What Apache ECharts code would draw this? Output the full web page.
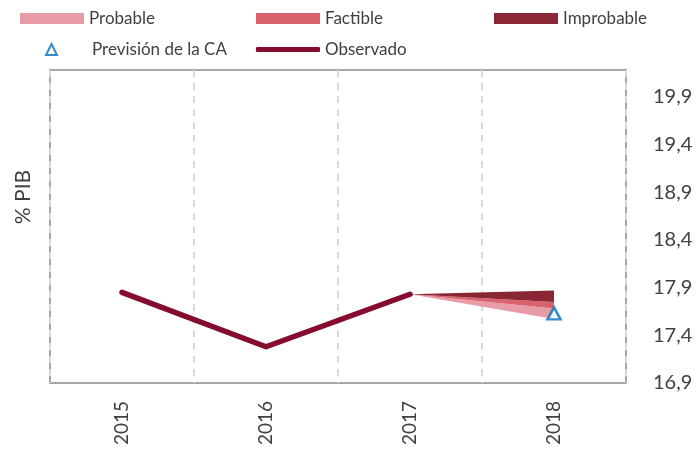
<!DOCTYPE html>
<html>
<head>
<meta charset="utf-8">
<script src="https://cdn.jsdelivr.net/npm/echarts@6/dist/echarts.min.js"></script>
<style>html,body{margin:0;padding:0;background:#fff}#c{width:698px;height:450px}</style>
</head>
<body>
<div id="c"></div>
<script>
const categories = ['2015', '2016', '2017', '2018'];
const observado = [17.85, 17.28, 17.83, null];
const fanLower = [null, null, 17.83, 17.57];
const probableUpper = [null, null, 17.83, 17.68];
const factibleUpper = [null, null, 17.83, 17.75];
const improbableUpper = [null, null, 17.83, 17.87];
const prevision = [null, null, null, 17.63];
const yTicks = [16.9, 17.4, 17.9, 18.4, 18.9, 19.4, 19.9];
const yMin = 16.9, yMax = 20.18;

function diff(a, b) { return a.map((v, i) => (v == null || b[i] == null) ? '-' : +(v - b[i]).toFixed(4)); }
function dash(a) { return a.map(v => v == null ? '-' : v); }

const FONT = 'Lato';
const TXT = '#404040';
const C_PROB = '#E89DA6', C_FACT = '#D9626F', C_IMPR = '#8B2634', C_OBS = '#850C2E', C_PREV = '#0070C0';

const legendBase = {
  orient: 'horizontal', itemWidth: 64, itemHeight: 11, selectedMode: false, padding: 0,
  textStyle: { fontFamily: FONT, fontSize: 17, color: TXT }
};

const chart = echarts.init(document.getElementById('c'), null, { renderer: 'canvas' });
chart.setOption({
  animation: false,
  grid: { left: 50, right: 72, top: 70, bottom: 67, show: true, borderColor: '#a6a6a6', borderWidth: 2 },
  legend: [
    Object.assign({}, legendBase, { left: 20, top: 10, icon: 'rect', data: ['Probable'] }),
    Object.assign({}, legendBase, { left: 256, top: 10, icon: 'rect', data: ['Factible'] }),
    Object.assign({}, legendBase, { left: 494, top: 10, icon: 'rect', data: ['Improbable'] }),
    Object.assign({}, legendBase, { left: 45, top: 41, icon: 'triangle', itemWidth: 11, itemHeight: 11,
      textStyle: { fontFamily: FONT, fontSize: 17, color: TXT, padding: [0, 0, 0, 30] }, data: ['Previsión de la CA'] }),
    Object.assign({}, legendBase, { left: 256, top: 41, icon: 'roundRect', itemHeight: 5, data: ['Observado'] })
  ],
  graphic: [{
    type: 'text', x: 23, y: 197, rotation: Math.PI / 2,
    style: { text: '% PIB', fontFamily: FONT, fontSize: 21, fill: TXT, align: 'center', verticalAlign: 'middle' }
  }],
  xAxis: {
    type: 'category', data: categories, boundaryGap: true,
    axisLine: { show: false }, axisTick: { show: false },
    axisLabel: { rotate: 90, margin: 18, fontFamily: FONT, fontSize: 19, color: TXT },
    splitLine: { show: true, lineStyle: { color: '#d9d9d9', width: 2, type: [7, 6] } }
  },
  yAxis: {
    type: 'value', position: 'right', min: yMin, max: yMax,
    axisLine: { show: false }, axisTick: { show: false, customValues: yTicks },
    splitLine: { show: false },
    axisLabel: { customValues: yTicks, margin: 27, fontFamily: FONT, fontSize: 20, color: TXT,
      formatter: v => v.toFixed(1).replace('.', ',') }
  },
  series: [
    { name: 'base', type: 'line', stack: 'fan', data: dash(fanLower), symbol: 'none',
      lineStyle: { width: 0, opacity: 0 }, silent: true, z: 2 },
    { name: 'Probable', type: 'line', stack: 'fan', data: diff(probableUpper, fanLower), symbol: 'none',
      lineStyle: { width: 0 }, itemStyle: { color: C_PROB }, areaStyle: { color: C_PROB, opacity: 1 }, z: 2 },
    { name: 'Factible', type: 'line', stack: 'fan', data: diff(factibleUpper, probableUpper), symbol: 'none',
      lineStyle: { width: 0 }, itemStyle: { color: C_FACT }, areaStyle: { color: C_FACT, opacity: 1 }, z: 2 },
    { name: 'Improbable', type: 'line', stack: 'fan', data: diff(improbableUpper, factibleUpper), symbol: 'none',
      lineStyle: { width: 0 }, itemStyle: { color: C_IMPR }, areaStyle: { color: C_IMPR, opacity: 1 }, z: 2 },
    { name: 'Observado', type: 'line', data: dash(observado), symbol: 'none',
      itemStyle: { color: C_OBS }, lineStyle: { color: C_OBS, width: 5.5, cap: 'round', join: 'round' }, z: 5 },
    { name: 'Previsión de la CA', type: 'scatter', data: dash(prevision), symbol: 'triangle', symbolSize: [13, 12],
      itemStyle: { color: '#ffffff', borderColor: C_PREV, borderWidth: 2.5 }, z: 10 }
  ]
});
</script>
</body>
</html>
